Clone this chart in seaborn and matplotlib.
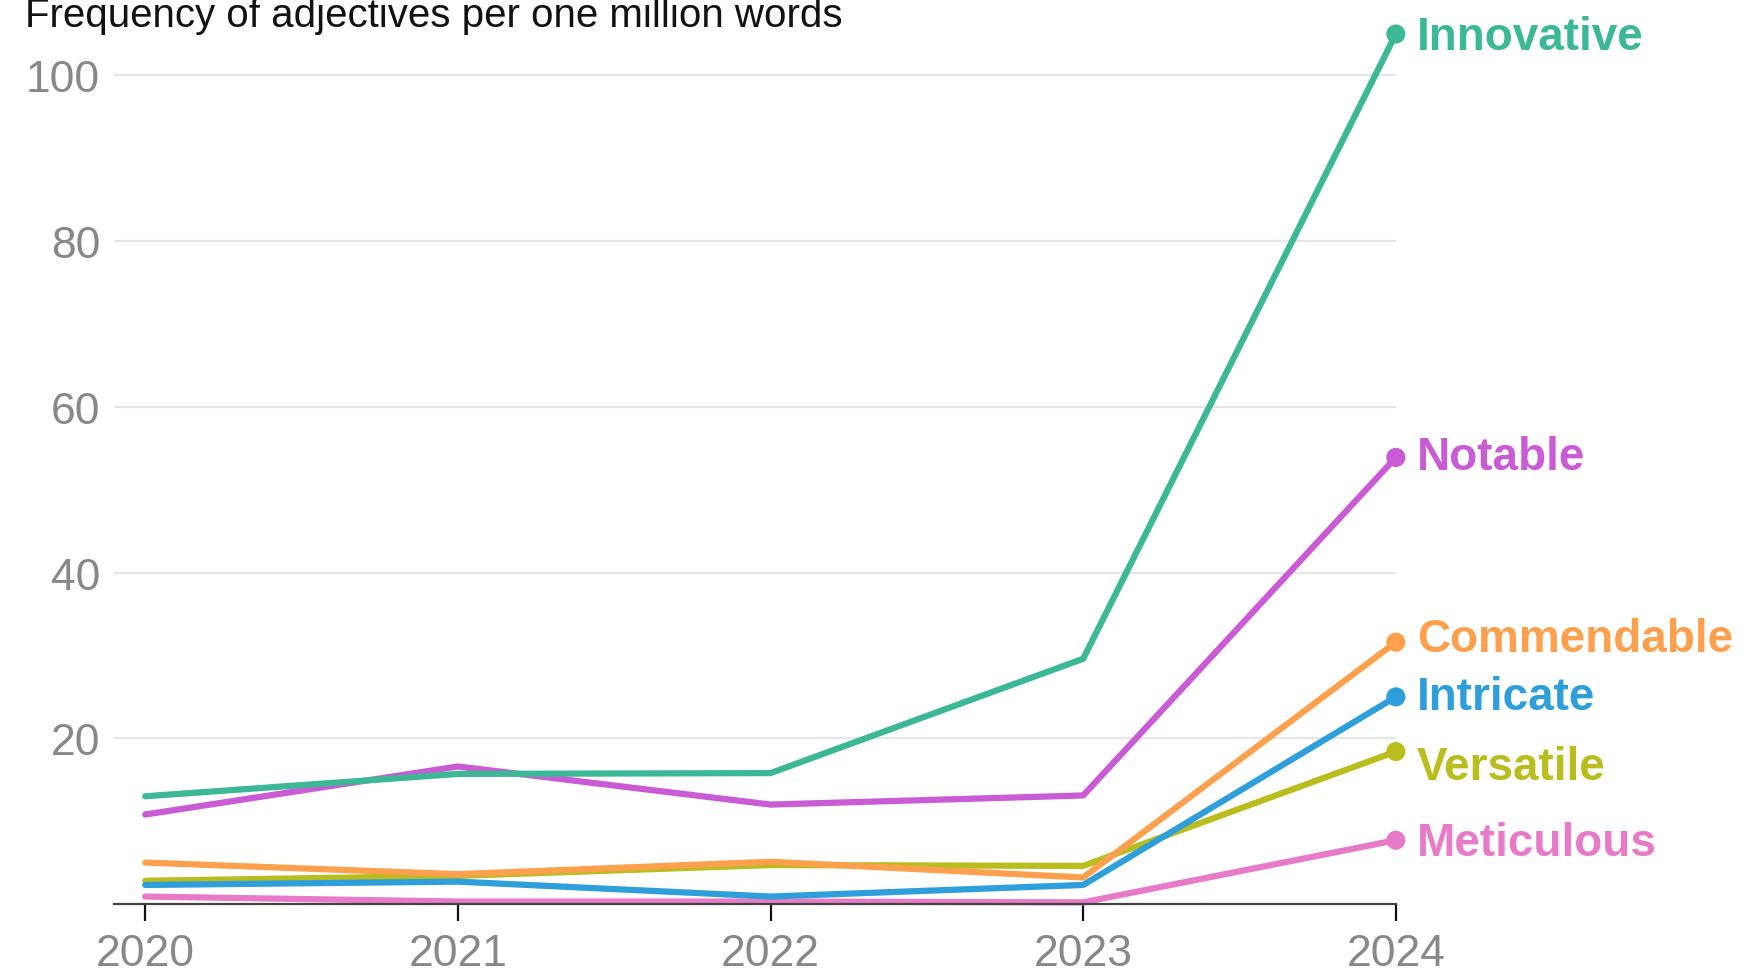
import pandas as pd
import matplotlib.pyplot as plt
import seaborn as sns

# values (frequency per one million words)
years = [2020, 2021, 2022, 2023, 2024]
innovative = [13.0, 15.7, 15.8, 29.6, 105.0]
notable = [10.8, 16.6, 12.0, 13.1, 53.9]
commendable = [5.0, 3.6, 5.1, 3.2, 31.6]
intricate = [2.3, 2.7, 0.9, 2.3, 25.0]
versatile = [2.8, 3.4, 4.7, 4.6, 18.4]
meticulous = [0.9, 0.3, 0.3, 0.2, 7.7]

words = ['Innovative', 'Notable', 'Commendable', 'Intricate', 'Versatile', 'Meticulous']
series = [innovative, notable, commendable, intricate, versatile, meticulous]
colors = ['#3db897', '#c95bd4', '#ffa04f', '#2f9fdb', '#b9bd1e', '#e77bc8']
palette = dict(zip(words, colors))

rows = []
for w, vals in zip(words, series):
    for y, v in zip(years, vals):
        rows.append({'year': y, 'word': w, 'freq': v})
df = pd.DataFrame(rows)

sns.set_style('white')
plt.rcParams['font.family'] = ['Liberation Sans', 'DejaVu Sans']

fig = plt.figure(figsize=(17.56, 9.70), dpi=100)
ax = fig.add_axes([0.0649, 0.067, 0.730, 0.914])

# draw in reverse so Innovative sits on top
for w in reversed(words):
    sub = df[df['word'] == w]
    sns.lineplot(data=sub, x='year', y='freq', color=palette[w], linewidth=4.5,
                 ax=ax, clip_on=False, legend=False)

last = df[df['year'] == years[-1]]
sns.scatterplot(data=last, x='year', y='freq', hue='word', palette=palette,
                s=190, edgecolor='none', ax=ax, clip_on=False, legend=False, zorder=5)

# end labels
label_offsets = {'Versatile': -11, 'Meticulous': -2, 'Commendable': 2, 'Innovative': -2}
for _, r in last.iterrows():
    ax.annotate(r['word'], (r['year'], r['freq']), xytext=(15, label_offsets.get(r['word'], 0)),
                textcoords='offset points', va='center', ha='left', fontsize=33,
                fontweight='bold', color=palette[r['word']], annotation_clip=False)

ax.set_xlim(2019.9, 2024)
ax.set_ylim(0, 107)
ax.set_yticks([20, 40, 60, 80, 100])
ax.set_xticks(years)
ax.set_xticklabels([str(y) for y in years])
ax.grid(axis='y', color='#e6e6e6', linewidth=1.6)
ax.set_axisbelow(True)
for s in ['top', 'right', 'left']:
    ax.spines[s].set_visible(False)
ax.spines['bottom'].set_color('#444444')
ax.spines['bottom'].set_linewidth(1.6)
ax.tick_params(axis='y', left=False, length=0, pad=10, labelsize=32, labelcolor='#888888')
ax.tick_params(axis='x', bottom=True, length=12, width=1.6, color='#111111', direction='out',
               pad=9, labelsize=32, labelcolor='#888888')
ax.set_xlabel('')
ax.set_ylabel('')

fig.text(25 / 1756, 1 - 27 / 970, 'Frequency of adjectives per one million words',
         fontsize=29, color='#121212', ha='left', va='baseline')

fig.savefig('out.png', dpi=100)
